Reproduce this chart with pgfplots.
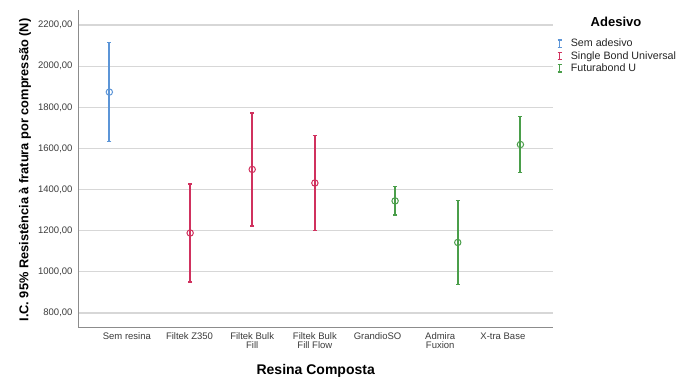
\documentclass[border=0pt]{standalone}
\usepackage{fontspec}
\setmainfont{Liberation Sans}
\usepackage{pgfplots}
\pgfplotsset{compat=1.18}
\definecolor{cblue}{RGB}{92,149,215}
\definecolor{cred}{RGB}{208,49,94}
\definecolor{cgreen}{RGB}{74,158,74}
\definecolor{gridgray}{RGB}{215,215,215}
\definecolor{axisgray}{RGB}{140,140,140}
\definecolor{tickgray}{RGB}{60,60,60}
\pgfplotsset{
  cistyle/.style={only marks, mark=o, mark size=3.2pt, color=#1, draw=#1,
    mark options={line width=1pt, fill=none, draw=#1},
    error bars/.cd, y dir=both, y explicit,
      error bar style={line width=1.9pt, draw=#1, color=#1},
      error mark options={rotate=90, mark size=2pt, line width=1.3pt, draw=#1, color=#1},
    /pgfplots/.cd,
    legend image code/.code={\draw[#1, line width=1.7pt] (0pt,-3.6pt) -- (0pt,3.6pt); \draw[#1, line width=1.2pt] (-2pt,-3.8pt) -- (2pt,-3.8pt) (-2pt,3.8pt) -- (2pt,3.8pt); \path (-2pt,0) (9pt,0);}
  }
}
\begin{document}
\begin{tikzpicture}[x=1pt,y=1pt]
\path[use as bounding box, fill=white] (0,0) rectangle (684,378);
\begin{axis}[
  at={(78pt,51pt)}, anchor=south west,
  scale only axis, width=475pt, height=317pt,
  xmin=-0.78, xmax=6.8, ymin=732, ymax=2273,
  axis x line*=bottom, axis y line*=left,
  axis line style={-, draw=axisgray, line width=1pt},
  major tick length=0pt,
  ymajorgrids, grid style={draw=gridgray, line width=1.2pt},
  ytick={800,1000,...,2200},
  yticklabels={{800,00},{1000,00},{1200,00},{1400,00},{1600,00},{1800,00},{2000,00},{2200,00}},
  yticklabel style={font=\fontsize{9.5}{10}\selectfont, text=tickgray, xshift=-2pt},
  xtick={0,1,2,3,4,5,6},
  xticklabels={{Sem resina},{Filtek Z350},{Filtek Bulk\\Fill},{Filtek Bulk\\Fill Flow},{GrandioSO},{Admira\\Fuxion},{X-tra Base}},
  xticklabel style={font=\fontsize{9.5}{9.5}\selectfont, text=tickgray, align=center, yshift=-2pt},
  legend style={at={(1.008,0.915)}, anchor=north west, draw=none, fill=none,
    font=\fontsize{10.7}{11}\selectfont, row sep=-1pt, inner sep=0pt, text=black!85},
  legend cell align=left,
]
\addplot[cistyle=cblue] coordinates {(-0.28,1874) +- (0,241)};
\addlegendentry{Sem adesivo}
\addplot[cistyle=cred] coordinates {(1.01,1189) +- (0,238) (2,1498) +- (0,275) (3,1432) +- (0,232)};
\addlegendentry{Single Bond Universal}
\addplot[cistyle=cgreen] coordinates {(4.28,1345) +- (0,69) (5.28,1143) +- (0,204) (6.28,1619) +- (0,135)};
\addlegendentry{Futurabond U}
\end{axis}
\node[font=\bfseries\fontsize{13}{13}\selectfont] at (616,356) {Adesivo};
\node[rotate=90, font=\bfseries\fontsize{12.8}{13}\selectfont] at (25,208) {I.C. 95\% Resistência à fratura por compressão (N)};
\node[font=\bfseries\fontsize{14}{14}\selectfont] at (315.7,7) {Resina Composta};
\end{tikzpicture}
\end{document}
